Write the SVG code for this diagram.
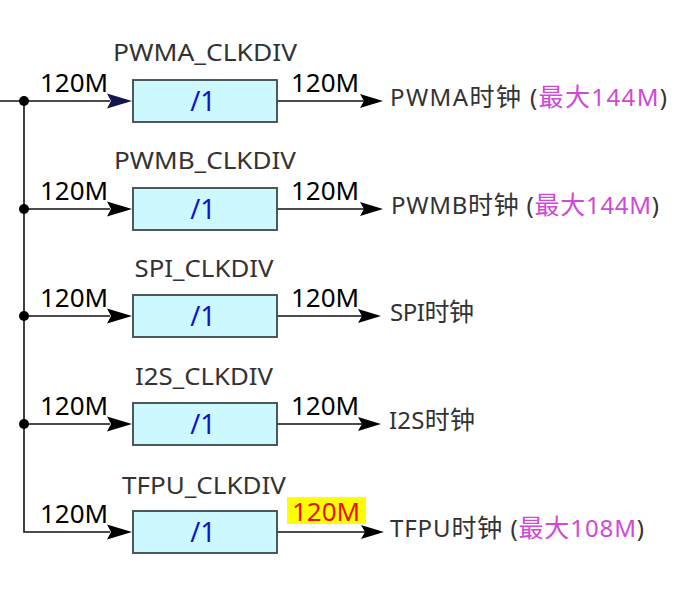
<svg xmlns="http://www.w3.org/2000/svg" width="695" height="598" viewBox="0 0 695 598">
<style>
.wire{stroke:#111;stroke-width:1.6;fill:none}
.box{fill:#cdf8fe;stroke:#3c4848;stroke-width:1.8}
.title{font-family:"Noto Sans","DejaVu Sans",sans-serif;font-size:23px;fill:#333;text-anchor:middle}
.freq{font-family:"Noto Sans","DejaVu Sans",sans-serif;font-size:26px;fill:#000}
.div{font-family:"Noto Sans","DejaVu Sans",sans-serif;font-size:27px;fill:#1010d0;text-anchor:middle}
.out{font-family:"Noto Sans","Noto Sans CJK SC",sans-serif;font-size:24px;fill:#333}
.cjk{font-family:"Noto Sans CJK SC","Noto Sans",sans-serif;font-size:25px}
.mag{fill:#d048d8}
.dot{fill:#000}
</style>
<defs>
<polygon id="ahIn" points="0,0 -25,-7.5 -21,0 -25,7.5"/>
<polygon id="ahOut" points="0,0 -23,-7 -19,0 -23,7"/>
</defs>
<g id="connectors">
<path class="wire" d="M0,101 H110 M24,101 V532 H110 M24,209 H110 M24,316 H110 M24,424 H110"/>
<path class="wire" d="M277,101 H364 M277,209 H364 M277,316 H362 M277,424 H362 M277,532 H365"/>
<circle class="dot" cx="24" cy="101" r="5"/>
<circle class="dot" cx="24" cy="209" r="5"/>
<circle class="dot" cx="24" cy="316" r="5"/>
<circle class="dot" cx="24" cy="424" r="5"/>
<use href="#ahIn" x="132" y="101" fill="#141450"/>
<use href="#ahIn" x="132" y="209" fill="#000"/>
<use href="#ahIn" x="132" y="316" fill="#000"/>
<use href="#ahIn" x="132" y="424" fill="#000"/>
<use href="#ahIn" x="132" y="532" fill="#000"/>
<use href="#ahOut" x="383" y="101" fill="#000"/>
<use href="#ahOut" x="383" y="209" fill="#000"/>
<use href="#ahOut" x="381" y="316" fill="#000"/>
<use href="#ahOut" x="381" y="424" fill="#000"/>
<use href="#ahOut" x="384" y="532" fill="#000"/>
<text class="freq" x="40" y="92">120M</text>
<text class="freq" x="40" y="200">120M</text>
<text class="freq" x="40" y="307">120M</text>
<text class="freq" x="40" y="415">120M</text>
<text class="freq" x="40" y="523">120M</text>
<text class="freq" x="291" y="92">120M</text>
<text class="freq" x="291" y="200">120M</text>
<text class="freq" x="291" y="307">120M</text>
<text class="freq" x="291" y="415">120M</text>
<rect x="287" y="497" width="79" height="27" fill="#ffff00"/>
<text class="freq" x="292" y="521" style="fill:#e8100c">120M</text>
</g>
<g id="pwma">
<text class="title" x="205" y="61" textLength="184" lengthAdjust="spacingAndGlyphs">PWMA_CLKDIV</text>
<rect class="box" x="133" y="80" width="144" height="42"/>
<text class="div" x="203" y="111">/1</text>
<text class="out" x="390" y="106" textLength="277" lengthAdjust="spacing">PWMA<tspan class="cjk">时钟</tspan> (<tspan class="mag"><tspan class="cjk">最大</tspan>144M</tspan>)</text>
</g>
<g id="pwmb">
<text class="title" x="205" y="169" textLength="182" lengthAdjust="spacingAndGlyphs">PWMB_CLKDIV</text>
<rect class="box" x="133" y="188" width="144" height="42"/>
<text class="div" x="203" y="219">/1</text>
<text class="out" x="391" y="214" textLength="268" lengthAdjust="spacing">PWMB<tspan class="cjk">时钟</tspan> (<tspan class="mag"><tspan class="cjk">最大</tspan>144M</tspan>)</text>
</g>
<g id="spi">
<text class="title" x="204" y="277" textLength="139" lengthAdjust="spacingAndGlyphs">SPI_CLKDIV</text>
<rect class="box" x="133" y="295" width="144" height="42"/>
<text class="div" x="203" y="326">/1</text>
<text class="out" x="390" y="321" textLength="84" lengthAdjust="spacing">SPI<tspan class="cjk">时钟</tspan></text>
</g>
<g id="i2s">
<text class="title" x="204" y="385" textLength="138" lengthAdjust="spacingAndGlyphs">I2S_CLKDIV</text>
<rect class="box" x="133" y="403" width="144" height="42"/>
<text class="div" x="203" y="434">/1</text>
<text class="out" x="389" y="429" textLength="86" lengthAdjust="spacing">I2S<tspan class="cjk">时钟</tspan></text>
</g>
<g id="tfpu">
<text class="title" x="204" y="494" textLength="164" lengthAdjust="spacingAndGlyphs">TFPU_CLKDIV</text>
<rect class="box" x="133" y="511" width="144" height="42"/>
<text class="div" x="203" y="542">/1</text>
<text class="out" x="390" y="537" textLength="254" lengthAdjust="spacing">TFPU<tspan class="cjk">时钟</tspan> (<tspan class="mag"><tspan class="cjk">最大</tspan>108M</tspan>)</text>
</g>
</svg>
